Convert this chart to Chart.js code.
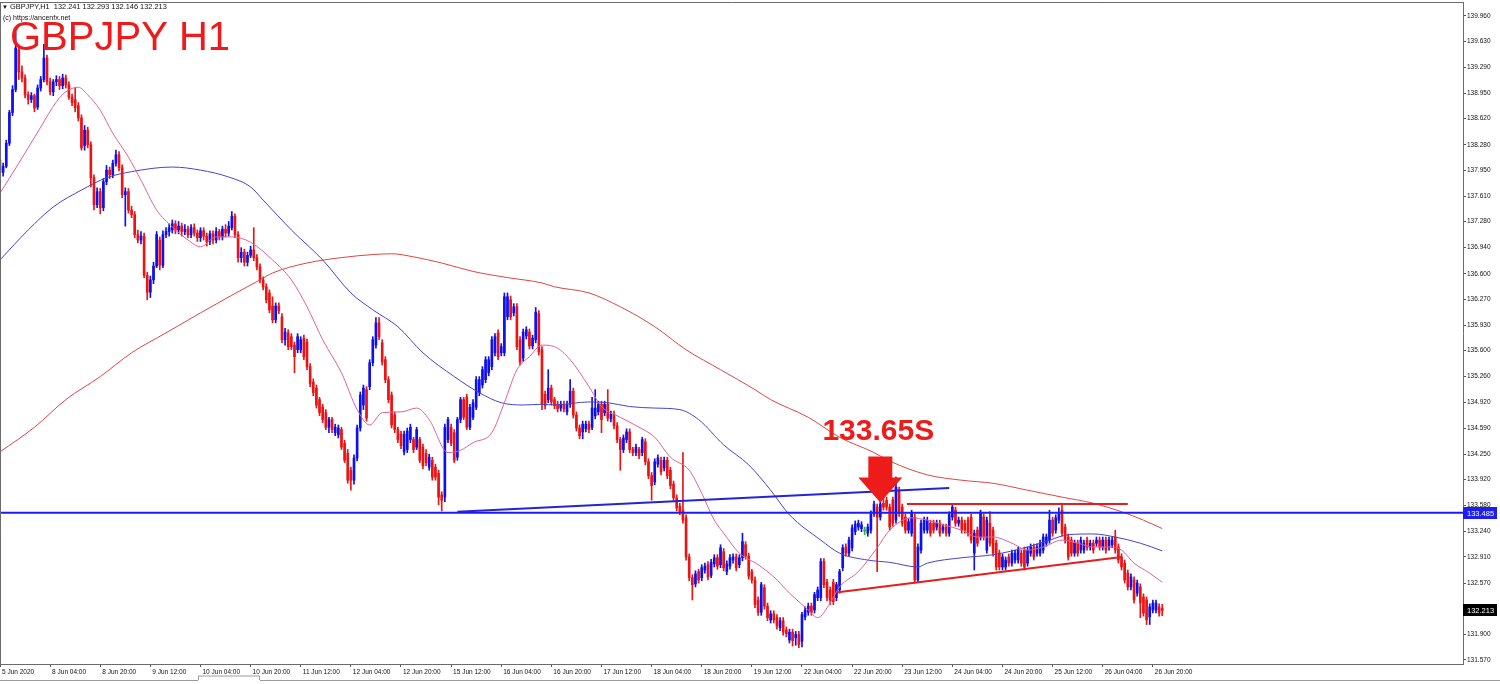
<!DOCTYPE html>
<html>
<head>
<meta charset="utf-8">
<title>GBPJPY H1</title>
<script src="https://cdn.jsdelivr.net/npm/chart.js@4.4.0/dist/chart.umd.min.js"></script>
<style>
    html, body { margin: 0; padding: 0; background: #fff; }
    #wrap { width: 1500px; height: 684px; }
</style>
</head>
<body>
<div id="wrap"><canvas id="myChart" width="1500" height="684"></canvas></div>
<script>
// hourly candles, 5 Jun 12:00 -> 26 Jun 23:00 (bar index = position on the x axis)
const opens = [
    138.08, 137.92, 138.00, 138.30, 138.70, 139.00, 139.52, 139.23, 139.15, 138.93,
    138.87, 138.92, 138.77, 139.02, 139.13, 139.41, 139.10, 138.97, 139.10, 139.13,
    139.05, 139.15, 139.06, 138.90, 138.87, 138.79, 138.63, 138.27, 138.47, 138.28,
    137.85, 137.50, 137.67, 137.46, 137.80, 137.95, 137.89, 138.04, 138.15, 137.98,
    137.63, 137.67, 137.43, 137.37, 137.11, 137.04, 137.09, 136.58, 136.36, 136.52,
    136.70, 137.04, 136.71, 137.11, 137.15, 137.17, 137.25, 137.17, 137.22, 137.15,
    137.18, 137.11, 137.20, 137.13, 137.07, 137.16, 137.09, 137.02, 137.12, 137.04,
    137.15, 137.08, 137.18, 137.13, 137.20, 137.35, 137.11, 136.81, 136.88, 136.75,
    136.84, 136.91, 136.81, 136.69, 136.52, 136.43, 136.35, 136.18, 136.00, 136.18,
    136.04, 135.74, 135.83, 135.78, 135.67, 135.61, 135.61, 135.76, 135.71, 135.39,
    135.19, 135.11, 134.96, 134.86, 134.79, 134.60, 134.70, 134.53, 134.50, 134.57,
    134.39, 134.26, 134.04, 133.91, 134.20, 134.59, 134.89, 135.09, 135.13, 135.44,
    135.67, 135.96, 135.70, 135.48, 135.22, 135.02, 134.76, 134.57, 134.51, 134.28,
    134.31, 134.44, 134.44, 134.34, 134.44, 134.34, 134.26, 134.08, 134.17, 134.08,
    134.00, 133.72, 133.69, 134.44, 134.60, 134.53, 134.21, 134.70, 134.96, 134.99,
    134.60, 134.73, 134.86, 135.05, 135.15, 135.22, 135.31, 135.39, 135.57, 135.83,
    135.57, 135.57, 136.04, 136.26, 136.09, 136.17, 135.74, 135.50, 135.79, 135.84,
    135.66, 135.74, 136.08, 135.61, 135.03, 134.96, 135.11, 134.96, 134.90, 134.85,
    134.90, 134.80, 134.90, 135.07, 134.76, 134.59, 134.54, 134.58, 134.64, 134.60,
    134.75, 134.80, 134.90, 134.79, 134.90, 134.71, 134.77, 134.62, 134.44, 134.31,
    134.44, 134.54, 134.31, 134.27, 134.31, 134.27, 134.41, 134.15, 133.97, 133.89,
    134.12, 134.17, 134.07, 134.17, 134.04, 133.86, 133.68, 133.57, 133.52, 133.42,
    132.91, 132.64, 132.56, 132.72, 132.64, 132.74, 132.81, 132.67, 132.82, 132.90,
    132.81, 132.98, 132.72, 132.79, 132.87, 132.91, 132.81, 132.90, 133.07, 132.92,
    132.72, 132.61, 132.35, 132.19, 132.51, 132.27, 132.09, 132.17, 132.12, 131.99,
    132.08, 131.96, 131.83, 131.93, 131.86, 131.90, 131.81, 132.13, 132.19, 132.27,
    132.22, 132.38, 132.38, 132.85, 132.58, 132.48, 132.58, 132.38, 132.48, 132.77,
    133.04, 132.96, 133.03, 133.24, 133.30, 133.28, 133.25, 133.22, 133.26, 133.48,
    133.56, 133.43, 133.61, 133.65, 133.56, 133.65, 133.39, 133.78, 133.56, 133.43,
    133.26, 133.22, 133.43, 132.61, 133.00, 133.26, 133.26, 133.35, 133.35, 133.30,
    133.35, 133.26, 133.30, 133.22, 133.43, 133.52, 133.35, 133.39, 133.35, 133.39,
    133.43, 132.96, 133.26, 133.17, 133.43, 133.00, 133.35, 133.26, 133.09, 132.96,
    132.78, 132.78, 132.91, 132.83, 132.87, 132.87, 132.96, 133.00, 132.83, 132.96,
    133.04, 132.96, 132.96, 133.00, 133.09, 133.13, 133.39, 133.26, 133.39, 133.52,
    133.30, 133.17, 133.13, 132.96, 133.09, 133.00, 133.00, 133.13, 133.04, 133.09,
    133.09, 133.13, 133.04, 133.13, 133.04, 133.07, 133.17, 133.04, 132.91, 132.83,
    132.70, 132.52, 132.61, 132.44, 132.52, 132.39, 132.35, 132.13, 132.22, 132.22,
    132.26, 132.241
];
const highs = [
    138.12, 138.04, 138.34, 138.73, 139.05, 139.74, 139.58, 139.31, 139.19, 138.97,
    138.96, 138.94, 139.06, 139.17, 139.59, 139.45, 139.15, 139.13, 139.18, 139.17,
    139.20, 139.19, 139.10, 138.94, 139.02, 138.83, 138.67, 138.53, 138.51, 138.32,
    137.89, 137.72, 137.71, 137.84, 138.01, 137.99, 138.08, 138.21, 138.19, 138.02,
    137.72, 137.71, 137.48, 137.41, 137.17, 137.15, 137.13, 136.62, 136.57, 136.75,
    137.15, 137.08, 137.16, 137.20, 137.25, 137.30, 137.29, 137.28, 137.26, 137.24,
    137.22, 137.24, 137.25, 137.17, 137.20, 137.20, 137.13, 137.16, 137.16, 137.20,
    137.18, 137.22, 137.24, 137.28, 137.41, 137.38, 137.15, 136.94, 136.92, 136.88,
    136.96, 137.20, 136.85, 136.73, 136.56, 136.47, 136.39, 136.30, 136.22, 136.22,
    136.08, 135.89, 135.87, 135.82, 135.71, 135.82, 135.78, 135.80, 135.75, 135.43,
    135.23, 135.15, 134.99, 134.90, 134.83, 134.73, 134.73, 134.64, 134.63, 134.60,
    134.43, 134.31, 134.08, 134.24, 134.63, 135.06, 135.15, 135.13, 135.48, 135.78,
    136.03, 136.03, 135.74, 135.52, 135.26, 135.06, 134.80, 134.60, 134.55, 134.55,
    134.59, 134.64, 134.47, 134.60, 134.47, 134.38, 134.31, 134.25, 134.21, 134.12,
    134.04, 133.76, 134.64, 134.73, 134.64, 134.57, 134.73, 134.99, 134.99, 135.03,
    134.90, 134.96, 135.26, 135.26, 135.39, 135.52, 135.52, 135.78, 135.82, 135.87,
    135.69, 136.35, 136.35, 136.31, 136.21, 136.21, 135.78, 135.88, 135.91, 135.88,
    135.80, 136.16, 136.12, 135.65, 135.07, 135.35, 135.15, 134.99, 134.94, 134.94,
    134.94, 134.94, 135.22, 135.11, 134.80, 134.63, 134.68, 134.68, 134.68, 134.99,
    135.09, 134.94, 134.94, 134.94, 135.09, 134.81, 134.81, 134.66, 134.47, 134.50,
    134.58, 134.58, 134.34, 134.38, 134.34, 134.47, 134.45, 134.19, 134.01, 134.19,
    134.24, 134.21, 134.21, 134.21, 134.08, 133.90, 133.72, 133.61, 134.27, 133.46,
    132.95, 132.68, 132.73, 132.75, 132.81, 132.83, 132.85, 132.88, 132.94, 132.94,
    133.07, 133.02, 132.86, 132.94, 132.95, 132.95, 132.94, 133.22, 133.11, 132.96,
    132.75, 132.65, 132.39, 132.58, 132.55, 132.31, 132.21, 132.21, 132.16, 132.12,
    132.12, 132.00, 131.97, 131.97, 131.94, 131.94, 132.19, 132.26, 132.31, 132.31,
    132.45, 132.52, 132.89, 132.89, 132.62, 132.52, 132.62, 132.58, 132.75, 133.07,
    133.08, 133.17, 133.33, 133.38, 133.39, 133.37, 133.30, 133.34, 133.51, 133.64,
    133.60, 133.64, 133.76, 133.69, 133.60, 133.69, 133.95, 133.82, 133.60, 133.47,
    133.41, 133.52, 133.47, 133.08, 133.39, 133.43, 133.43, 133.39, 133.39, 133.39,
    133.39, 133.34, 133.34, 133.50, 133.59, 133.56, 133.43, 133.43, 133.39, 133.43,
    133.47, 133.26, 133.30, 133.52, 133.47, 133.43, 133.50, 133.30, 133.13, 133.00,
    132.95, 132.91, 132.95, 133.00, 133.00, 133.04, 133.00, 133.04, 133.04, 133.08,
    133.08, 133.08, 133.13, 133.21, 133.21, 133.52, 133.43, 133.46, 133.55, 133.61,
    133.34, 133.21, 133.17, 133.13, 133.13, 133.17, 133.13, 133.17, 133.13, 133.13,
    133.17, 133.17, 133.17, 133.17, 133.17, 133.17, 133.26, 133.08, 132.95, 132.87,
    132.74, 132.69, 132.65, 132.61, 132.56, 132.43, 132.39, 132.30, 132.35, 132.35,
    132.30, 132.293
];
const lows = [
    137.86, 137.87, 137.98, 138.27, 138.66, 138.97, 139.13, 139.10, 138.89, 138.81,
    138.83, 138.71, 138.74, 138.98, 139.10, 139.06, 138.93, 138.92, 139.05, 139.00,
    139.01, 139.02, 138.87, 138.79, 138.71, 138.59, 138.21, 138.21, 138.24, 137.73,
    137.43, 137.46, 137.38, 137.42, 137.76, 137.84, 137.85, 138.00, 137.94, 137.59,
    137.22, 137.39, 137.33, 137.07, 137.00, 136.99, 136.55, 136.26, 136.29, 136.47,
    136.68, 136.65, 136.68, 137.07, 137.09, 137.13, 137.12, 137.12, 137.09, 137.11,
    137.07, 137.07, 137.09, 137.02, 137.02, 137.04, 136.96, 136.98, 136.99, 137.00,
    137.04, 137.04, 137.08, 137.09, 137.17, 137.07, 136.75, 136.75, 136.70, 136.70,
    136.81, 136.77, 136.65, 136.48, 136.39, 136.22, 136.09, 135.96, 135.96, 136.08,
    135.70, 135.67, 135.61, 135.61, 135.31, 135.57, 135.57, 135.48, 135.35, 135.13,
    135.01, 134.85, 134.75, 134.66, 134.57, 134.53, 134.53, 134.49, 134.46, 134.31,
    134.14, 133.87, 133.78, 133.86, 134.16, 134.55, 134.83, 134.68, 135.09, 135.40,
    135.63, 135.74, 135.41, 135.18, 134.92, 134.59, 134.53, 134.40, 134.32, 134.24,
    134.27, 134.40, 134.27, 134.31, 134.14, 134.06, 134.10, 134.04, 133.91, 133.91,
    133.59, 133.51, 133.63, 134.40, 134.36, 134.14, 134.17, 134.66, 134.70, 134.57,
    134.57, 134.70, 134.83, 135.01, 135.11, 135.18, 135.27, 135.35, 135.53, 135.48,
    135.53, 135.53, 136.00, 136.00, 136.05, 135.61, 135.41, 135.46, 135.75, 135.62,
    135.62, 135.70, 135.54, 134.83, 134.84, 134.92, 134.89, 134.84, 134.80, 134.81,
    134.80, 134.76, 134.86, 134.72, 134.55, 134.45, 134.45, 134.54, 134.53, 134.57,
    134.71, 134.76, 134.53, 134.75, 134.68, 134.67, 134.58, 134.40, 134.04, 134.27,
    134.40, 134.27, 134.23, 134.23, 134.19, 134.23, 134.11, 133.93, 133.65, 133.85,
    134.08, 133.98, 134.03, 133.93, 133.80, 133.64, 133.51, 133.46, 133.35, 132.87,
    132.60, 132.35, 132.52, 132.57, 132.60, 132.70, 132.61, 132.64, 132.78, 132.75,
    132.77, 132.73, 132.68, 132.75, 132.83, 132.73, 132.77, 132.86, 132.88, 132.62,
    132.57, 132.25, 132.15, 132.15, 132.23, 132.08, 132.05, 132.05, 131.97, 131.95,
    131.89, 131.87, 131.79, 131.75, 131.76, 131.73, 131.74, 132.09, 132.15, 132.15,
    132.18, 132.34, 132.34, 132.51, 132.34, 132.29, 132.29, 132.34, 132.44, 132.73,
    132.92, 132.92, 132.99, 133.20, 133.26, 133.24, 133.20, 133.18, 133.22, 133.44,
    132.72, 133.39, 133.52, 133.52, 133.26, 133.31, 133.35, 133.44, 133.31, 133.22,
    133.22, 133.18, 132.57, 132.58, 132.96, 133.22, 133.22, 133.18, 133.22, 133.26,
    133.18, 133.22, 133.18, 133.18, 133.39, 133.31, 133.31, 133.22, 133.22, 133.18,
    133.09, 132.74, 133.05, 133.13, 133.13, 132.96, 133.05, 132.92, 132.74, 132.74,
    132.74, 132.74, 132.79, 132.79, 132.83, 132.83, 132.79, 132.74, 132.79, 132.92,
    132.87, 132.92, 132.92, 132.96, 133.05, 133.09, 133.18, 133.22, 133.35, 133.18,
    133.09, 132.87, 132.92, 132.92, 132.92, 132.96, 132.96, 133.00, 133.00, 132.96,
    133.05, 133.00, 133.00, 132.96, 133.00, 133.03, 132.96, 132.83, 132.74, 132.57,
    132.48, 132.48, 132.31, 132.40, 132.12, 132.14, 132.03, 132.03, 132.18, 132.18,
    132.14, 132.146
];
const closes = [
    137.92, 138.00, 138.30, 138.70, 139.00, 139.54, 139.23, 139.15, 138.93, 138.87,
    138.92, 138.76, 139.02, 139.13, 139.41, 139.10, 138.97, 139.10, 139.13, 139.05,
    139.15, 139.06, 138.90, 138.83, 138.76, 138.63, 138.24, 138.47, 138.28, 137.85,
    137.50, 137.67, 137.46, 137.80, 137.95, 137.89, 138.04, 138.15, 137.98, 137.63,
    137.67, 137.43, 137.37, 137.11, 137.04, 137.09, 136.58, 136.36, 136.52, 136.70,
    137.11, 136.71, 137.11, 137.15, 137.20, 137.25, 137.17, 137.22, 137.15, 137.18,
    137.11, 137.20, 137.13, 137.07, 137.16, 137.09, 137.02, 137.12, 137.04, 137.15,
    137.08, 137.18, 137.13, 137.22, 137.35, 137.11, 136.81, 136.88, 136.75, 136.84,
    136.91, 136.81, 136.69, 136.52, 136.43, 136.26, 136.13, 136.00, 136.18, 136.12,
    135.74, 135.84, 135.65, 135.65, 135.52, 135.78, 135.74, 135.52, 135.39, 135.17,
    135.05, 134.89, 134.79, 134.70, 134.60, 134.70, 134.57, 134.60, 134.59, 134.34,
    134.17, 133.91, 133.91, 134.20, 134.59, 135.02, 135.11, 134.72, 135.44, 135.74,
    135.96, 135.78, 135.45, 135.22, 134.96, 134.63, 134.57, 134.44, 134.36, 134.51,
    134.55, 134.60, 134.31, 134.57, 134.17, 134.10, 134.14, 134.21, 133.95, 133.95,
    133.69, 133.65, 134.60, 134.70, 134.39, 134.17, 134.70, 134.96, 134.73, 134.60,
    134.86, 134.92, 135.22, 135.22, 135.35, 135.48, 135.48, 135.74, 135.78, 135.52,
    135.65, 136.30, 136.30, 136.04, 136.17, 135.65, 135.45, 135.84, 135.87, 135.66,
    135.76, 136.10, 135.58, 134.90, 134.88, 135.11, 134.93, 134.88, 134.84, 134.90,
    134.84, 134.90, 135.07, 134.76, 134.59, 134.49, 134.64, 134.64, 134.57, 134.85,
    134.85, 134.90, 134.70, 134.90, 134.72, 134.77, 134.62, 134.44, 134.31, 134.46,
    134.54, 134.31, 134.27, 134.34, 134.23, 134.44, 134.15, 133.97, 133.84, 134.15,
    134.20, 134.02, 134.17, 133.97, 133.84, 133.68, 133.55, 133.50, 133.39, 132.91,
    132.64, 132.55, 132.69, 132.61, 132.77, 132.79, 132.65, 132.84, 132.90, 132.79,
    133.03, 132.77, 132.82, 132.90, 132.91, 132.77, 132.90, 133.11, 132.92, 132.66,
    132.61, 132.29, 132.19, 132.55, 132.27, 132.12, 132.17, 132.09, 132.01, 132.08,
    131.93, 131.91, 131.93, 131.82, 131.90, 131.77, 132.16, 132.22, 132.27, 132.19,
    132.42, 132.48, 132.85, 132.55, 132.38, 132.35, 132.33, 132.55, 132.72, 133.03,
    132.96, 133.13, 133.29, 133.34, 133.35, 133.33, 133.25, 133.30, 133.47, 133.60,
    133.43, 133.60, 133.56, 133.56, 133.30, 133.35, 133.82, 133.48, 133.35, 133.26,
    133.37, 133.48, 132.61, 133.04, 133.35, 133.39, 133.39, 133.22, 133.26, 133.35,
    133.22, 133.30, 133.22, 133.46, 133.56, 133.35, 133.39, 133.26, 133.26, 133.22,
    133.13, 133.22, 133.09, 133.48, 133.17, 133.39, 133.09, 132.96, 132.78, 132.78,
    132.91, 132.87, 132.83, 132.96, 132.96, 133.00, 132.83, 132.78, 133.00, 133.04,
    132.91, 133.04, 133.09, 133.17, 133.17, 133.39, 133.22, 133.42, 133.48, 133.22,
    133.13, 132.91, 132.96, 133.09, 132.96, 133.13, 133.09, 133.04, 133.09, 133.00,
    133.13, 133.04, 133.13, 133.00, 133.13, 133.13, 133.00, 132.87, 132.78, 132.61,
    132.52, 132.65, 132.35, 132.57, 132.31, 132.18, 132.09, 132.26, 132.31, 132.31,
    132.18, 132.213
];

// moving averages (bar index, price)
const fastMaBars = [0, 6, 13, 18, 21, 25, 28, 32, 36, 41, 45, 50, 55, 60, 64, 69, 74, 80, 87, 93,
    98, 103, 109, 114, 118, 122, 128, 133, 137, 143, 147, 151, 157, 161, 165, 169, 173, 177, 182, 188,
    192, 198, 204, 209, 214, 220, 224, 228, 231, 236, 242, 247, 252, 258, 261, 265, 268, 274, 280, 284,
    291, 296, 301, 307, 312, 317, 323, 328, 333, 339, 344, 349, 355, 358, 362, 367, 371];
const fastMaVals = [137.65, 138.04, 138.51, 138.84, 138.97, 139.03, 138.93, 138.73, 138.43, 138.12,
    137.82, 137.43, 137.21, 137.04, 136.95, 137.08, 137.08, 137.01, 136.78, 136.52,
    136.17, 135.74, 135.31, 134.83, 134.63, 134.79, 134.80, 134.85, 134.70, 134.27,
    134.30, 134.40, 134.53, 134.92, 135.35, 135.52, 135.67, 135.65, 135.48, 135.13,
    134.87, 134.73, 134.60, 134.47, 134.21, 134.04, 133.74, 133.39, 133.22, 132.96,
    132.81, 132.65, 132.44, 132.22, 132.12, 132.31, 132.52, 132.72, 133.03, 133.26,
    133.42, 133.39, 133.33, 133.26, 133.17, 133.17, 133.09, 133.00, 133.04, 133.13,
    133.09, 133.04, 133.04, 133.00, 132.83, 132.70, 132.58];
const midMaBars = [0, 9, 17, 26, 34, 42, 55, 64, 73, 80, 84, 93, 103, 112, 119, 127, 135, 145, 153, 160,
    167, 173, 177, 188, 194, 201, 209, 217, 223, 231, 239, 246, 252, 262, 268, 277, 284, 293, 296, 307,
    317, 328, 335, 341, 349, 356, 364, 371];
const midMaVals = [136.78, 137.17, 137.47, 137.69, 137.85, 137.93, 137.99, 137.95, 137.86, 137.73,
    137.56, 137.17, 136.78, 136.35, 136.13, 135.91, 135.57, 135.26, 135.05, 134.92,
    134.89, 134.90, 134.89, 134.93, 134.92, 134.87, 134.85, 134.83, 134.70, 134.37,
    134.11, 133.78, 133.46, 133.13, 132.96, 132.87, 132.84, 132.78, 132.83, 132.90,
    132.94, 133.04, 133.13, 133.20, 133.21, 133.17, 133.09, 132.99];
const slowMaBars = [0, 11, 21, 32, 42, 53, 64, 74, 83, 87, 98, 109, 119, 125, 132, 141, 151, 162, 173, 177,
    188, 198, 209, 219, 230, 241, 246, 258, 268, 279, 284, 296, 307, 317, 328, 339, 349, 358, 365, 371];
const slowMaVals = [134.28, 134.60, 134.96, 135.26, 135.57, 135.83, 136.09, 136.32, 136.52, 136.61,
    136.74, 136.81, 136.85, 136.86, 136.82, 136.74, 136.63, 136.55, 136.48, 136.43,
    136.35, 136.17, 135.91, 135.61, 135.35, 135.09, 134.96, 134.73, 134.47, 134.27,
    134.16, 133.98, 133.91, 133.87, 133.78, 133.69, 133.61, 133.50, 133.39, 133.28];

// drawn lines (bar index, price)
const supportBars = [146, 303];
const supportVals = [133.50, 133.81];
const wedgeBars = [267.5, 358];
const wedgeVals = [132.45, 132.91];
const capBars = [289.5, 360];
const capVals = [133.60, 133.60];
const levelPrice = 133.485;
const lastPrice = 132.213;
const arrowBar = 281;
const arrowPrice = 133.62;
const signalText = '133.65S';

// axes
const tickBars = [0, 16, 32, 48, 64, 80, 96, 112, 128, 144, 160, 176, 192, 208, 224, 240, 256, 272, 288, 304, 320, 336, 352, 368];
const tickLabels = ['5 Jun 2020', '8 Jun 04:00', '8 Jun 20:00', '9 Jun 12:00', '10 Jun 04:00', '10 Jun 20:00',
    '11 Jun 12:00', '12 Jun 04:00', '12 Jun 20:00', '15 Jun 12:00', '16 Jun 04:00', '16 Jun 20:00',
    '17 Jun 12:00', '18 Jun 04:00', '18 Jun 20:00', '19 Jun 12:00', '22 Jun 04:00', '22 Jun 20:00',
    '23 Jun 12:00', '24 Jun 04:00', '24 Jun 20:00', '25 Jun 12:00', '26 Jun 04:00', '26 Jun 20:00'];
const priceTicks = [139.96, 139.63, 139.29, 138.95, 138.62, 138.28, 137.95, 137.61, 137.28, 136.94,
    136.60, 136.27, 135.93, 135.60, 135.26, 134.92, 134.59, 134.25, 133.92, 133.58, 133.24, 132.91,
    132.57, 131.90, 131.57];
const xMax = 467;
const yMin = 131.516;
const yMax = 140.14;

const FONT = "'Liberation Sans', Arial, sans-serif";
const BULL = '#1010ea';
const BEAR = '#ea1414';
const DOJI = '#22b822';

function candleColor(i) {
    if (closes[i] > opens[i]) return BULL;
    if (closes[i] < opens[i]) return BEAR;
    return DOJI;
}

const toPoints = (bars, vals) => bars.map((b, k) => ({ x: b, y: vals[k] }));

Chart.defaults.font.family = FONT;

// price tags, frame, MT4 header texts, arrow
const overlay = {
    id: 'overlay',
    afterDatasetsDraw(chart) {
        const { ctx, scales: { x, y } } = chart;
        const tx = x.getPixelForValue(arrowBar);
        const ty = y.getPixelForValue(arrowPrice);
        ctx.save();
        ctx.fillStyle = '#ee1b1b';
        ctx.beginPath();
        ctx.moveTo(tx - 12, ty - 46);
        ctx.lineTo(tx + 12, ty - 46);
        ctx.lineTo(tx + 12, ty - 25);
        ctx.lineTo(tx + 22, ty - 25);
        ctx.lineTo(tx, ty);
        ctx.lineTo(tx - 22, ty - 25);
        ctx.lineTo(tx - 12, ty - 25);
        ctx.closePath();
        ctx.fill();
        ctx.font = 'bold 30px ' + FONT;
        ctx.textAlign = 'center';
        ctx.textBaseline = 'alphabetic';
        ctx.fillText(signalText, tx - 2, ty - 62);
        ctx.restore();
    },
    afterDraw(chart) {
        const { ctx, chartArea: area, scales: { y } } = chart;
        ctx.save();

        // frame top and left
        ctx.strokeStyle = '#6b6b6b';
        ctx.lineWidth = 1;
        ctx.beginPath();
        ctx.moveTo(0, area.top + 0.5);
        ctx.lineTo(area.right, area.top + 0.5);
        ctx.moveTo(0.5, area.top);
        ctx.lineTo(0.5, area.bottom);
        ctx.stroke();

        // price tags on the axis
        const tag = (price, bg) => {
            const py = Math.round(y.getPixelForValue(price));
            ctx.fillStyle = bg;
            ctx.fillRect(area.right, py - 6, 34, 12);
            ctx.fillStyle = '#fff';
            ctx.font = '7.5px ' + FONT;
            ctx.textAlign = 'left';
            ctx.textBaseline = 'middle';
            ctx.fillText(price.toFixed(3), area.right + 4, py + 0.5);
        };
        tag(levelPrice, '#1c1cf4');
        tag(lastPrice, '#000');

        // header
        ctx.fillStyle = '#111';
        ctx.textAlign = 'left';
        ctx.textBaseline = 'middle';
        ctx.font = '6px ' + FONT;
        ctx.fillText('\u25BC', 2, 7);
        ctx.font = '7.4px ' + FONT;
        ctx.fillText('GBPJPY,H1  132.241 132.293 132.146 132.213', 10, 7);
        ctx.font = '7px ' + FONT;
        ctx.fillText('(c) https://ancenfx.net', 3, 18);

        ctx.fillStyle = '#f01a1a';
        ctx.font = '40px ' + FONT;
        ctx.textBaseline = 'alphabetic';
        ctx.fillText('GBPJPY H1', 10, 50);

        // tab strip at the very bottom
        ctx.strokeStyle = '#9c9c9c';
        ctx.beginPath();
        ctx.moveTo(0, 680.5);
        ctx.lineTo(198, 680.5);
        ctx.moveTo(260, 680.5);
        ctx.lineTo(1500, 680.5);
        ctx.moveTo(198.5, 680);
        ctx.lineTo(198.5, 676);
        ctx.lineTo(259.5, 676);
        ctx.lineTo(259.5, 680);
        ctx.stroke();
        ctx.restore();
    }
};

var ctx = document.getElementById('myChart').getContext('2d');

var myChart = new Chart(ctx, {
    type: 'bar',
    data: {
        datasets: [
            {
                type: 'line', label: 'Level', order: 0,
                data: [{ x: 0, y: levelPrice }, { x: xMax, y: levelPrice }],
                borderColor: '#1c1cf4', borderWidth: 2, pointRadius: 0
            },
            {
                type: 'line', label: 'Support', order: 0,
                data: toPoints(supportBars, supportVals),
                borderColor: '#2424d6', borderWidth: 2, pointRadius: 0
            },
            {
                type: 'line', label: 'Wedge', order: 0,
                data: toPoints(wedgeBars, wedgeVals),
                borderColor: '#e41e1e', borderWidth: 2, pointRadius: 0
            },
            {
                type: 'line', label: 'Cap', order: 0,
                data: toPoints(capBars, capVals),
                borderColor: '#e41e1e', borderWidth: 2, pointRadius: 0
            },
            {
                type: 'line', label: 'MA fast', order: 1,
                data: toPoints(fastMaBars, fastMaVals),
                borderColor: '#e0609e', borderWidth: 1, pointRadius: 0,
                cubicInterpolationMode: 'monotone'
            },
            {
                type: 'line', label: 'MA mid', order: 1,
                data: toPoints(midMaBars, midMaVals),
                borderColor: '#4444cc', borderWidth: 1, pointRadius: 0,
                cubicInterpolationMode: 'monotone'
            },
            {
                type: 'line', label: 'MA slow', order: 1,
                data: toPoints(slowMaBars, slowMaVals),
                borderColor: '#e04444', borderWidth: 1, pointRadius: 0,
                cubicInterpolationMode: 'monotone'
            },
            {
                label: 'Bodies', order: 2, grouped: false,
                data: closes.map((c, i) => ({ x: i, y: [opens[i], c] })),
                backgroundColor: (c) => candleColor(c.dataIndex),
                barThickness: 2, minBarLength: 1, borderWidth: 0
            },
            {
                label: 'Wicks', order: 3, grouped: false,
                data: highs.map((h, i) => ({ x: i, y: [lows[i], h] })),
                backgroundColor: (c) => candleColor(c.dataIndex),
                barThickness: 1, borderWidth: 0
            }
        ]
    },
    options: {
        responsive: false,
        animation: false,
        events: [],
        layout: { padding: { top: 2, left: 0, right: 0, bottom: 0 } },
        plugins: {
            legend: { display: false },
            tooltip: { enabled: false },
            title: { display: false }
        },
        scales: {
            x: {
                type: 'linear',
                min: 0,
                max: xMax,
                offset: false,
                grid: { drawOnChartArea: false, drawTicks: true, tickLength: 3, color: '#555', offset: false },
                border: { display: true, color: '#6b6b6b' },
                afterBuildTicks: (scale) => { scale.ticks = tickBars.map(v => ({ value: v })); },
                afterFit: (scale) => {
                    scale.height = 20;
                    scale.paddingLeft = 0;
                    scale.paddingRight = 0;
                },
                ticks: {
                    autoSkip: false,
                    maxRotation: 0,
                    minRotation: 0,
                    align: 'start',
                    labelOffset: 2,
                    padding: 1,
                    color: '#111',
                    font: { size: 6.5 },
                    callback: (v) => tickLabels[tickBars.indexOf(v)]
                }
            },
            y: {
                type: 'linear',
                position: 'right',
                min: yMin,
                max: yMax,
                grid: { drawOnChartArea: false, drawTicks: true, tickLength: 3, color: '#555' },
                border: { display: true, color: '#6b6b6b' },
                afterBuildTicks: (scale) => { scale.ticks = priceTicks.map(v => ({ value: v })); },
                afterFit: (scale) => {
                    scale.width = 37;
                    scale.paddingTop = 0;
                    scale.paddingBottom = 0;
                },
                ticks: {
                    padding: 1,
                    color: '#111',
                    font: { size: 6.5 },
                    callback: (v) => v.toFixed(3)
                }
            }
        }
    },
    plugins: [overlay]
});
</script>
</body>
</html>
